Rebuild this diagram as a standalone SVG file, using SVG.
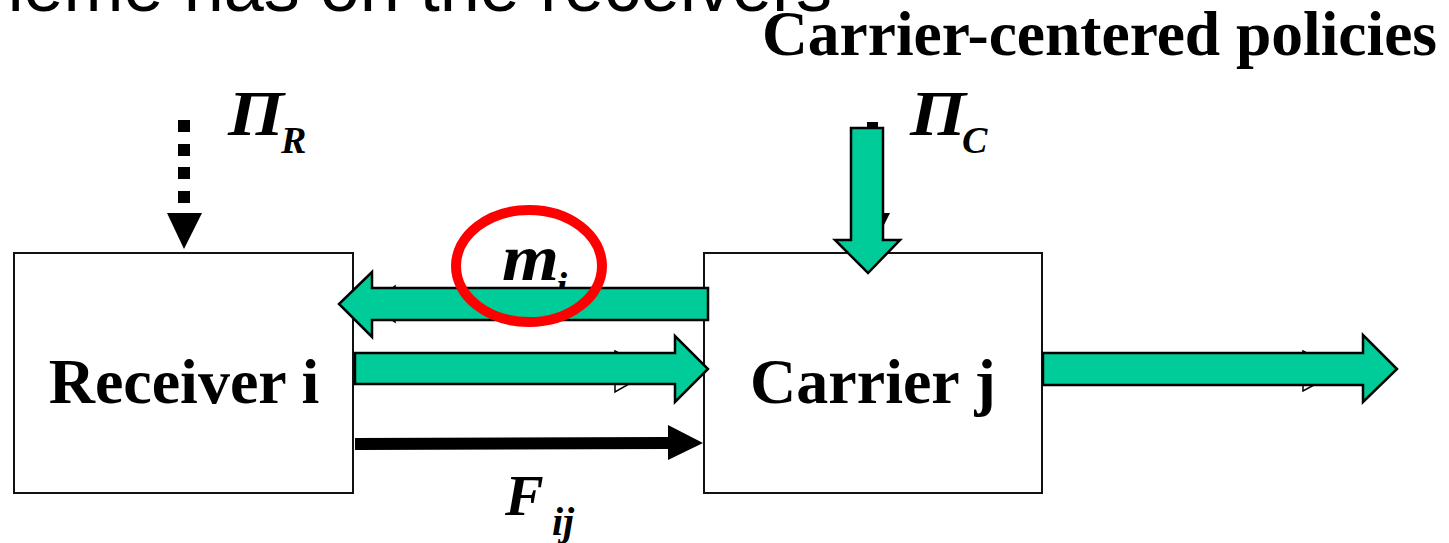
<svg xmlns="http://www.w3.org/2000/svg" width="1449" height="543" viewBox="0 0 1449 543">
<style>
.box{fill:#fff;stroke:#111;stroke-width:2}
.lbl{font-family:"Liberation Serif",serif;font-weight:bold;fill:#000}
.it{font-family:"Liberation Serif",serif;font-weight:bold;font-style:italic;fill:#000}
.g{fill:#00cc99;stroke:#000;stroke-width:2.5;stroke-linejoin:miter}
.under{fill:#fff;stroke:#000;stroke-width:1.5}
</style>
<rect width="1449" height="543" fill="#fff"/>
<text x="832" y="11" text-anchor="end" font-family="Liberation Sans, sans-serif" font-size="72" fill="#000">scheme has on the receivers</text>
<text class="lbl" x="762" y="55" font-size="64" textLength="675" lengthAdjust="spacingAndGlyphs">Carrier-centered policies</text>

<g id="receiver">
<rect class="box" x="14" y="253" width="339" height="240"/>
<text class="lbl" x="184" y="403" font-size="64" text-anchor="middle">Receiver i</text>
</g>
<g id="carrier">
<rect class="box" x="704" y="253" width="338" height="240"/>
<text class="lbl" x="873" y="403" font-size="64" text-anchor="middle">Carrier j</text>
</g>

<g id="labels">
<text class="it" x="228" y="135" font-size="64" textLength="56" lengthAdjust="spacingAndGlyphs">Π</text>
<text class="it" x="281" y="153" font-size="38">R</text>
<text class="it" x="910" y="135" font-size="64" textLength="56" lengthAdjust="spacingAndGlyphs">Π</text>
<text class="it" x="962" y="153" font-size="38">C</text>
<text class="it" x="502" y="280" font-size="66" textLength="57" lengthAdjust="spacingAndGlyphs">m</text>
<text class="it" x="556" y="300" font-size="40">i</text>
<text class="it" x="505" y="515" font-size="58">F</text>
<text class="it" x="552" y="535" font-size="40">ij</text>
</g>

<g id="connectors">
<g fill="#000">
<rect x="178" y="120" width="12" height="12"/>
<rect x="178" y="144" width="12" height="12"/>
<rect x="178" y="167" width="12" height="12"/>
<rect x="178" y="191" width="12" height="12"/>
<polygon points="167,213 202,213 184,249"/>
</g>
<g fill="#000">
<rect x="867" y="122" width="11" height="8"/>
<polygon points="855,213 890,213 872,249"/>
</g>
<polygon class="under" points="615,351 652,371 615,392"/>
<polygon class="under" points="1303,351 1340,371 1303,391"/>
<polygon class="under" points="395,286 370,304 395,322"/>
<polygon class="g" points="708,288 372,288 372,272 339,304 372,337 372,320 708,320"/>
<polygon class="g" points="355,353 675,353 675,336 708,369 675,402 675,384 355,384"/>
<polygon fill="#000" points="355,438 668,437 668,425 703,443 668,460 668,449 355,450"/>
<polygon class="g" points="1043,353 1363,353 1363,335 1397,369 1363,402 1363,385 1043,385"/>
<polygon class="g" points="851,128 883,128 883,240 900,240 868,273 835,240 851,240"/>
</g>

<g id="highlight">
<ellipse cx="529" cy="266" rx="73" ry="56" fill="none" stroke="#ff0000" stroke-width="10"/>
</g>
</svg>
